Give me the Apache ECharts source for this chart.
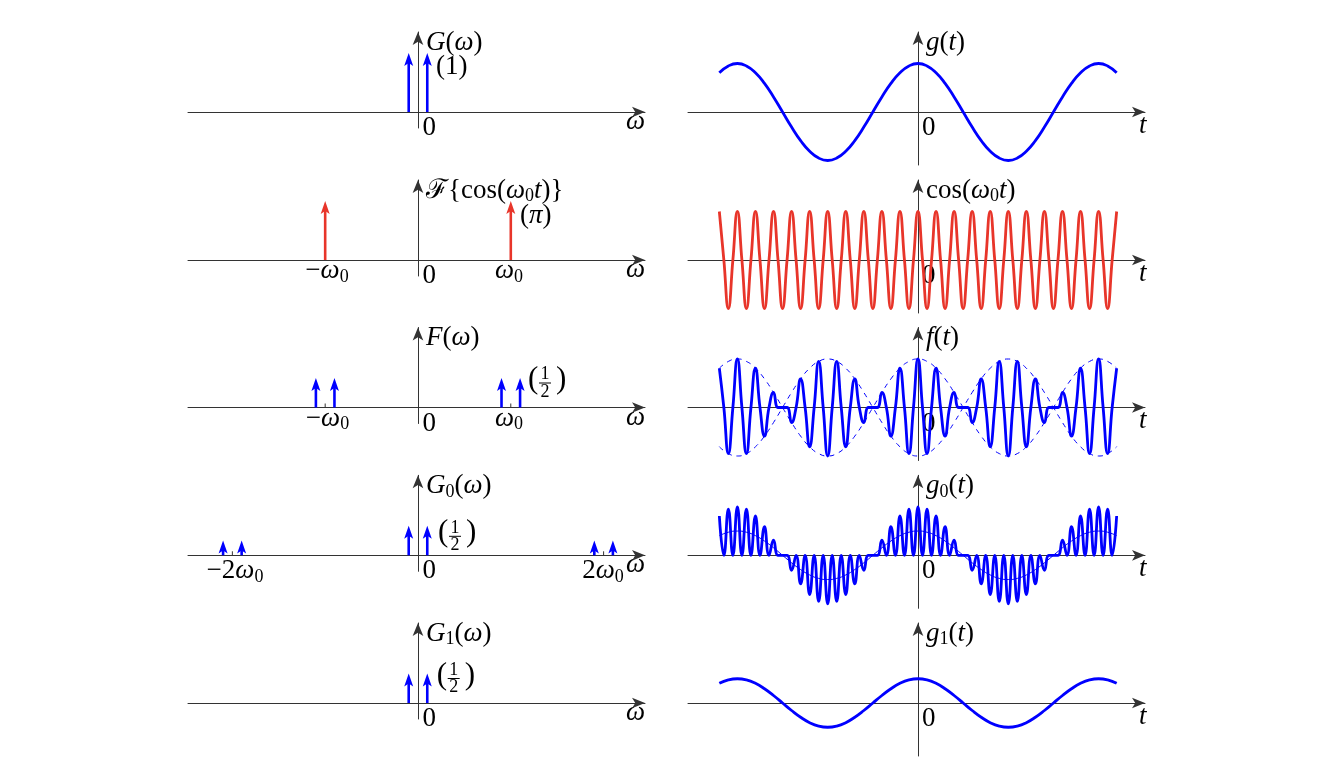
<!DOCTYPE html>
<html>
<head>
<meta charset="utf-8">
<title>Modulation spectra</title>
<script src="https://cdn.jsdelivr.net/npm/echarts@6/dist/echarts.min.js"></script>
<style>
  html, body { margin: 0; padding: 0; background: #fff; }
  #chart { width: 1334px; height: 772px; }
</style>
</head>
<body>
<div id="chart"></div>
<script>
// time samples, in carrier periods (carrier = 10x the message frequency)
var tFast = [-11,-10.75,-10.5,-10.25,-10,-9.75,-9.5,-9.25,-9,-8.75,-8.5,-8.25,-8,-7.75,-7.5,-7.25,
  -7,-6.75,-6.5,-6.25,-6,-5.75,-5.5,-5.25,-5,-4.75,-4.5,-4.25,-4,-3.75,-3.5,-3.25,-3,-2.75,-2.5,-2.25,
  -2,-1.75,-1.5,-1.25,-1,-0.75,-0.5,-0.25,0,0.25,0.5,0.75,1,1.25,1.5,1.75,2,2.25,2.5,2.75,3,3.25,3.5,3.75,
  4,4.25,4.5,4.75,5,5.25,5.5,5.75,6,6.25,6.5,6.75,7,7.25,7.5,7.75,8,8.25,8.5,8.75,9,9.25,9.5,9.75,
  10,10.25,10.5,10.75,11];
// cos(w0 t)
var cosVals = [1,0,-1,0, 1,0,-1,0, 1,0,-1,0, 1,0,-1,0,
  1,0,-1,0, 1,0,-1,0, 1,0,-1,0, 1,0,-1,0,
  1,0,-1,0, 1,0,-1,0, 1,0,-1,0, 1,0,-1,0,
  1,0,-1,0, 1,0,-1,0, 1,0,-1,0, 1,0,-1,0,
  1,0,-1,0, 1,0,-1,0, 1,0,-1,0, 1,0,-1,0,
  1,0,-1,0, 1,0,-1,0, 1];
// f(t) = g(t) cos(w0 t)
var fVals = [.81,0,-.95,0, 1,0,-.95,0, .81,0,-.59,0, .31,0,0,0, -.31,0,.59,0, -.81,0,.95,0,
  -1,0,.95,0, -.81,0,.59,0, -.31,0,0,0, .31,0,-.59,0, .81,0,-.95,0,
  1,
  0,-.95, 0,.81, 0,-.59, 0,.31, 0,0, 0,-.31, 0,.59, 0,-.81, 0,.95, 0,-1, 0,.95,
  0,-.81, 0,.59, 0,-.31, 0,0, 0,.31, 0,-.59, 0,.81, 0,-.95, 0,1, 0,-.95, 0,.81];
// g0(t) = f(t) cos(w0 t)
var g0Vals = [.81,0,.95,0, 1,0,.95,0, .81,0,.59,0, .31,0,0,0, -.31,0,-.59,0, -.81,0,-.95,0,
  -1,0,-.95,0, -.81,0,-.59,0, -.31,0,0,0, .31,0,.59,0, .81,0,.95,0,
  1,
  0,.95, 0,.81, 0,.59, 0,.31, 0,0, 0,-.31, 0,-.59, 0,-.81, 0,-.95, 0,-1, 0,-.95,
  0,-.81, 0,-.59, 0,-.31, 0,0, 0,.31, 0,.59, 0,.81, 0,.95, 0,1, 0,.95, 0,.81];

// slow message signal, every half carrier period
var tSlow = [-11,-10.5,-10,-9.5,-9,-8.5,-8,-7.5,-7,-6.5,-6,-5.5,-5,-4.5,-4,-3.5,-3,-2.5,-2,-1.5,-1,-0.5,
  0,0.5,1,1.5,2,2.5,3,3.5,4,4.5,5,5.5,6,6.5,7,7.5,8,8.5,9,9.5,10,10.5,11];
var gVals = [.81,.95,1,.95,.81,.59,.31,0,-.31,-.59,-.81,-.95,-1,-.95,-.81,-.59,-.31,0,.31,.59,.81,.95,
  1,
  .95,.81,.59,.31,0,-.31,-.59,-.81,-.95,-1,-.95,-.81,-.59,-.31,0,.31,.59,.81,.95,1,.95,.81];
var gEnvLow = [-.81,-.95,-1,-.95,-.81,-.59,-.31,0,.31,.59,.81,.95,1,.95,.81,.59,.31,0,-.31,-.59,-.81,-.95,
  -1,
  -.95,-.81,-.59,-.31,0,.31,.59,.81,.95,1,.95,.81,.59,.31,0,-.31,-.59,-.81,-.95,-1,-.95,-.81];
var g1Vals = [.405,.476,.5,.476,.405,.294,.155,0,-.155,-.294,-.405,-.476,-.5,-.476,-.405,-.294,-.155,0,.155,.294,.405,.476,
  .5,
  .476,.405,.294,.155,0,-.155,-.294,-.405,-.476,-.5,-.476,-.405,-.294,-.155,0,.155,.294,.405,.476,.5,.476,.405];

// impulses: position (units of w1, w0 = 10) and drawn height
var gW = [-1, 1], gH = [1, 1];
var cosW = [-10, 10], cosH = [1, 1];
var fW = [-11, -9, 9, 11], fH = [0.5, 0.5, 0.5, 0.5];
var g0W = [-21, -19, -1, 1, 19, 21], g0H = [0.25, 0.25, 0.5, 0.5, 0.25, 0.25];
var g1W = [-1, 1], g1H = [0.5, 0.5];
var tick3 = [-10, 10], tick4 = [-20, 20];

var rowY = [112, 260, 407.5, 555.3, 703];
var BLUE = '#0000ff', RED = '#e8352a', AXIS = '#333';
var FONT = "'Liberation Serif', 'DejaVu Serif', serif";

var chart = echarts.init(document.getElementById('chart'));

function pairs(xs, ys) {
  return xs.map(function (x, i) { return [x, ys[i]]; });
}

function axis(gi, min, max) {
  return {
    gridIndex: gi, type: 'value', min: min, max: max,
    axisLine: { onZero: true, symbol: ['none', 'arrow'], symbolSize: [8, 13],
      lineStyle: { color: AXIS, width: 1 } },
    axisTick: { show: false }, axisLabel: { show: false }, splitLine: { show: false }
  };
}

// impulse drawn as shaft + stealth head, tip at the value
function arrowItem(color) {
  return function (params, api) {
    var p0 = api.coord([api.value(0), 0]);
    var p1 = api.coord([api.value(0), api.value(1)]);
    var x = p1[0], y = p1[1];
    return {
      type: 'group', children: [
        { type: 'line', shape: { x1: p0[0], y1: p0[1], x2: x, y2: y + 9 },
          style: { stroke: color, lineWidth: 2.6 } },
        { type: 'polygon', shape: { points: [[x, y], [x - 4.5, y + 13], [x, y + 10], [x + 4.5, y + 13]] },
          style: { fill: color } }
      ]
    };
  };
}

function tickItem(params, api) {
  var p = api.coord([api.value(0), 0]);
  return { type: 'line', shape: { x1: p[0], y1: p[1], x2: p[0], y2: p[1] - 4 },
    style: { stroke: AXIS, lineWidth: 1 } };
}

var grids = [], xAxes = [], yAxes = [];
rowY.forEach(function (y0, r) {
  grids.push({ left: 188, top: y0 - 80, width: 457, height: 96 });
  grids.push({ left: 688, top: y0 - 80, width: 457, height: 133 });
  xAxes.push(axis(2 * r, -24.78, 24.46));
  yAxes.push(axis(2 * r, -0.2712, 1.356));
  xAxes.push(axis(2 * r + 1, -12.735, 12.569));
  yAxes.push(axis(2 * r + 1, -1.0928, 1.6495));
});

var series = [];
[[gW, gH, BLUE], [cosW, cosH, RED], [fW, fH, BLUE], [g0W, g0H, BLUE], [g1W, g1H, BLUE]]
  .forEach(function (s, r) {
    series.push({ type: 'custom', xAxisIndex: 2 * r, yAxisIndex: 2 * r, silent: true,
      renderItem: arrowItem(s[2]), data: pairs(s[0], s[1]) });
  });
series.push({ type: 'custom', xAxisIndex: 4, yAxisIndex: 4, silent: true, renderItem: tickItem,
  data: pairs(tick3, [0, 0]) });
series.push({ type: 'custom', xAxisIndex: 6, yAxisIndex: 6, silent: true, renderItem: tickItem,
  data: pairs(tick4, [0, 0]) });

function curve(r, xs, ys, color, width, dash) {
  return {
    type: 'line', xAxisIndex: 2 * r + 1, yAxisIndex: 2 * r + 1, data: pairs(xs, ys),
    showSymbol: false, symbol: 'none', smooth: true, silent: true,
    lineStyle: { color: color, width: width, type: dash || 'solid' }
  };
}
series.push(curve(0, tSlow, gVals, BLUE, 2.8));
series.push(curve(1, tFast, cosVals, RED, 2.8));
series.push(curve(2, tSlow, gVals, BLUE, 1, [5, 5]));
series.push(curve(2, tSlow, gEnvLow, BLUE, 1, [5, 5]));
series.push(curve(2, tFast, fVals, BLUE, 2.8));
series.push(curve(3, tSlow, g1Vals, BLUE, 1));
series.push(curve(3, tFast, g0Vals, BLUE, 2.8));
series.push(curve(4, tSlow, g1Vals, BLUE, 2.8));

// text annotations
var RICH = {
  i: { fontStyle: 'italic', fontSize: 27, fontFamily: FONT, lineHeight: 30 },
  s: { fontSize: 18, fontFamily: FONT, lineHeight: 17, verticalAlign: 'bottom' }
};
function label(x, y, text, align) {
  return { type: 'text', x: x, y: y, z: 0, silent: true,
    style: { text: text, fontSize: 27, fontFamily: FONT, lineHeight: 30, fill: '#000',
      align: align || 'left', verticalAlign: 'middle', rich: RICH } };
}
function frac(x0, yc) {
  var st = { fontFamily: FONT, fill: '#000', verticalAlign: 'middle' };
  return [
    { type: 'text', x: x0, y: yc - 2, style: Object.assign({ text: '(', fontSize: 31, align: 'left' }, st) },
    { type: 'text', x: x0 + 17, y: yc - 7.5, style: Object.assign({ text: '1', fontSize: 18, align: 'center' }, st) },
    { type: 'line', shape: { x1: x0 + 11, y1: yc + 1, x2: x0 + 23, y2: yc + 1 }, style: { stroke: '#000', lineWidth: 1 } },
    { type: 'text', x: x0 + 17, y: yc + 10, style: Object.assign({ text: '2', fontSize: 18, align: 'center' }, st) },
    { type: 'text', x: x0 + 28, y: yc - 2, style: Object.assign({ text: ')', fontSize: 31, align: 'left' }, st) }
  ];
}

var leftTitles = ['{i|G}({i|ω})', 'ℱ{cos({i|ω}{s|0}{i|t})}', '{i|F}({i|ω})', '{i|G}{s|0}({i|ω})', '{i|G}{s|1}({i|ω})'];
var rightTitles = ['{i|g}({i|t})', 'cos({i|ω}{s|0}{i|t})', '{i|f}({i|t})', '{i|g}{s|0}({i|t})', '{i|g}{s|1}({i|t})'];

var graphics = [];
rowY.forEach(function (y0, r) {
  graphics.push(label(426, y0 - 69.5, leftTitles[r]));
  graphics.push(label(422.5, y0 + 16, '0'));
  graphics.push(label(626, y0 + 10, '{i|ω}'));
  graphics.push(label(926, y0 - 69.5, rightTitles[r]));
  graphics.push(label(922, y0 + 16, '0'));
  graphics.push(label(1139, y0 + 13.5, '{i|t}'));
});
graphics.push(label(436, rowY[0] - 45.5, '(1)'));
graphics.push(label(520, rowY[1] - 44.5, '({i|π})'));
graphics.push(label(327, rowY[1] + 11, '−{i|ω}{s|0}', 'center'));
graphics.push(label(509, rowY[1] + 11, '{i|ω}{s|0}', 'center'));
graphics.push(label(327.5, rowY[2] + 11, '−{i|ω}{s|0}', 'center'));
graphics.push(label(509, rowY[2] + 11, '{i|ω}{s|0}', 'center'));
graphics.push(label(235, rowY[3] + 15.5, '−2{i|ω}{s|0}', 'center'));
graphics.push(label(603, rowY[3] + 15.5, '2{i|ω}{s|0}', 'center'));
graphics = graphics.concat(frac(528, rowY[2] - 25.5), frac(438, rowY[3] - 20), frac(436.7, rowY[4] - 25.5));

chart.setOption({
  animation: false,
  backgroundColor: '#fff',
  grid: grids,
  xAxis: xAxes,
  yAxis: yAxes,
  series: series,
  graphic: { elements: graphics }
});
</script>
</body>
</html>
